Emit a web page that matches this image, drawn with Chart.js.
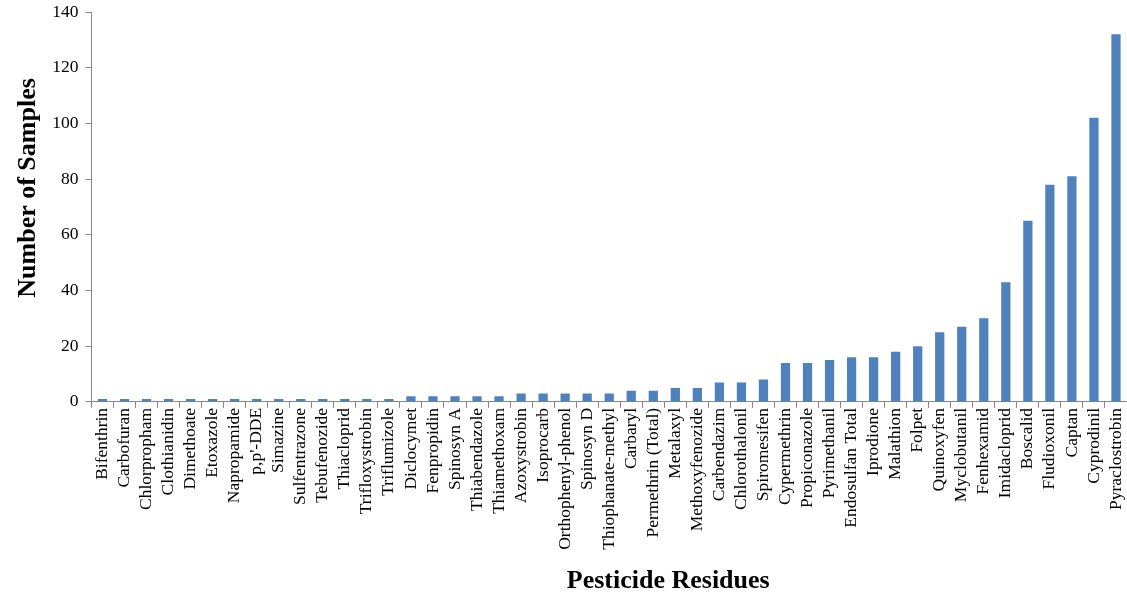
<!DOCTYPE html>
<html>
<head>
<meta charset="utf-8">
<script src="https://cdn.jsdelivr.net/npm/chart.js@4/dist/chart.umd.min.js"></script>
<style>
html,body{margin:0;padding:0;background:#fff;}
#wrap{width:1127px;height:598px;position:relative;}
</style>
</head>
<body>
<div id="wrap"><canvas id="c"></canvas></div>
<script>
const categories = ["Bifenthrin","Carbofuran","Chlorpropham","Clothianidin","Dimethoate","Etoxazole","Napropamide","p,p'-DDE","Simazine","Sulfentrazone","Tebufenozide","Thiacloprid","Trifloxystrobin","Triflumizole","Diclocymet","Fenpropidin","Spinosyn A","Thiabendazole","Thiamethoxam","Azoxystrobin","Isoprocarb","Orthophenyl-phenol","Spinosyn D","Thiophanate-methyl","Carbaryl","Permethrin (Total)","Metalaxyl","Methoxyfenozide","Carbendazim","Chlorothalonil","Spiromesifen","Cypermethrin","Propiconazole","Pyrimethanil","Endosulfan Total","Iprodione","Malathion","Folpet","Quinoxyfen","Myclobutanil","Fenhexamid","Imidacloprid","Boscalid","Fludioxonil","Captan","Cyprodinil","Pyraclostrobin"];
const samples = [1,1,1,1,1,1,1,1,1,1,1,1,1,1,2,2,2,2,2,3,3,3,3,3,4,4,5,5,7,7,8,14,14,15,16,16,18,20,25,27,30,43,65,78,81,102,132];
const yTicks = [0,20,40,60,80,100,120,140];
const xTitle = "Pesticide Residues";
const yTitle = "Number of Samples";

const serif = "'Liberation Serif','Times New Roman',serif";

// Excel places the axis titles slightly off the plot-area centre; shift them like the original.
const shiftedTitles = {
  id: 'shiftedTitles',
  afterDraw(chart) {
    const ctx = chart.ctx;
    const xs = chart.scales.x, ys = chart.scales.y;
    ctx.save();
    ctx.fillStyle = '#000';
    ctx.textAlign = 'center';
    ctx.textBaseline = 'middle';
    ctx.font = "bold 26px " + serif;
    ctx.fillText(xTitle, (xs.left + xs.right) / 2 + 59, xs.bottom - 10);
    ctx.translate(ys.left + 16, (ys.top + ys.bottom) / 2 - 19);
    ctx.rotate(-Math.PI / 2);
    ctx.fillText(yTitle, 0, 0);
    ctx.restore();
  }
};

new Chart(document.getElementById('c'), {
  type: 'bar',
  data: {
    labels: categories,
    datasets: [{
      data: samples,
      backgroundColor: '#4F81BD',
      borderWidth: 0,
      barPercentage: 0.42,
      categoryPercentage: 1.0
    }]
  },
  options: {
    responsive: true,
    maintainAspectRatio: false,
    animation: false,
    layout: { padding: { left: 12, right: 0, top: 12, bottom: 7 } },
    plugins: { legend: { display: false }, tooltip: { enabled: false } },
    scales: {
      x: {
        afterFit: (s) => { s.paddingLeft = 0; s.paddingRight = 0; },
        grid: { display: true, drawOnChartArea: false, offset: true, color: '#868686', tickLength: 6, lineWidth: 1 },
        border: { color: '#868686', width: 1 },
        ticks: { color: '#000', font: { family: serif, size: 17.5 }, minRotation: 90, maxRotation: 90, autoSkip: false, padding: 0 },
        title: { display: true, text: xTitle, color: 'rgba(0,0,0,0)', font: { family: serif, size: 26, weight: 'bold' }, padding: { top: 10, bottom: 0 } }
      },
      y: {
        min: 0, max: 140,
        afterBuildTicks: (axis) => { axis.ticks = yTicks.map(v => ({ value: v })); },
        afterFit: (s) => { s.paddingTop = 0; s.paddingBottom = 0; },
        grid: { display: true, drawOnChartArea: false, color: '#868686', tickLength: 6 },
        border: { color: '#868686', width: 1 },
        ticks: { color: '#000', font: { family: serif, size: 17.5 }, padding: 7 },
        title: { display: true, text: yTitle, color: 'rgba(0,0,0,0)', font: { family: serif, size: 26, weight: 'bold' }, padding: { top: 0, bottom: 2 } }
      }
    }
  },
  plugins: [shiftedTitles]
});
</script>
</body>
</html>
